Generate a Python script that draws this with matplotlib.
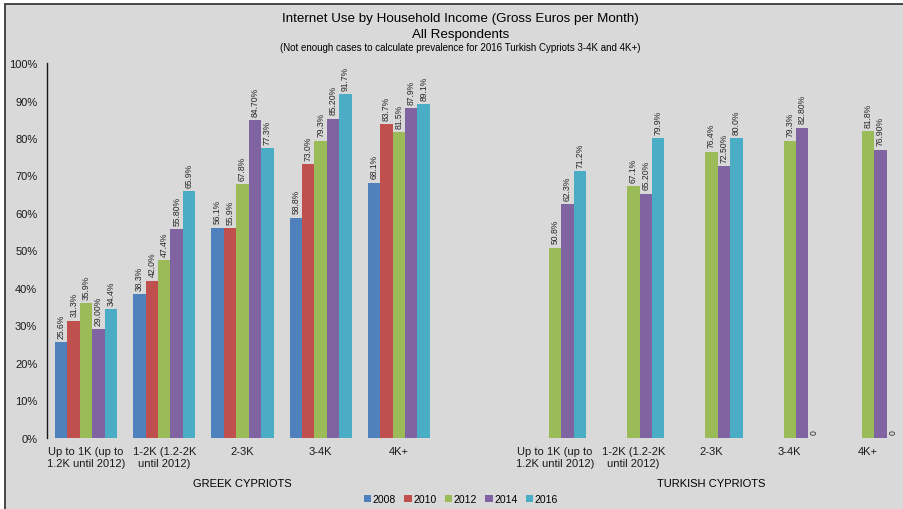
import numpy as np
import matplotlib.pyplot as plt
from matplotlib.patches import Rectangle
from matplotlib.transforms import blended_transform_factory

plt.rcParams["font.family"] = ["Liberation Sans", "DejaVu Sans"]

income_bands = ["Up to 1K (up to\n1.2K until 2012)", "1-2K (1.2-2K\nuntil 2012)",
                "2-3K", "3-4K", "4K+"]
years = [2008, 2010, 2012, 2014, 2016]
colors = ["#4F81BD", "#C0504D", "#9BBB59", "#8064A2", "#4BACC6"]

# percentages kept as strings so the printed precision survives in the labels
greek = {
    2008: ["25.6", "38.3", "56.1", "58.8", "68.1"],
    2010: ["31.3", "42.0", "55.9", "73.0", "83.7"],
    2012: ["35.9", "47.4", "67.8", "79.3", "81.5"],
    2014: ["29.00", "55.80", "84.70", "85.20", "87.9"],
    2016: ["34.4", "65.9", "77.3", "91.7", "89.1"],
}
turkish = {
    2008: [None] * 5,
    2010: [None] * 5,
    2012: ["50.8", "67.1", "76.4", "79.3", "81.8"],
    2014: ["62.3", "65.20", "72.50", "82.80", "76.90"],
    2016: ["71.2", "79.9", "80.0", "0", "0"],
}
greek_x = np.arange(5)
turkish_x = np.arange(6, 11)

fig = plt.figure(figsize=(9.04, 5.10), dpi=100)
fig.patch.set_facecolor("white")
fig.add_artist(Rectangle((5 / 904, -0.01), 1.0, 1 - 5 / 510 + 0.01,
                         transform=fig.transFigure, facecolor="#D9D9D9",
                         edgecolor="#3A3A3A", linewidth=1.3, zorder=-10))

ax = fig.add_axes([47 / 904, 71 / 510, (907 - 47) / 904, 375 / 510])
ax.set_facecolor("none")
ax.set_xlim(-0.5, 10.5)
ax.set_ylim(0, 100)

width = 0.159
offsets = (np.arange(len(years)) - 2) * width

for i, yr in enumerate(years):
    xs, heights, labels = [], [], []
    for vals, base in ((greek[yr], greek_x), (turkish[yr], turkish_x)):
        for x, s in zip(base, vals):
            if s is None:
                continue
            v = float(s)
            xs.append(x + offsets[i])
            heights.append(v)
            labels.append(s + "%" if v else "0")
    ax.bar(xs, heights, width, color=colors[i], label=str(yr), linewidth=0)
    for x, v, lab in zip(xs, heights, labels):
        ax.annotate(lab, (x, v), xytext=(0, 3), textcoords="offset points",
                    rotation=90, ha="center", va="bottom", fontsize=6.2,
                    color="#262626")

ax.set_yticks(range(0, 101, 10))
ax.set_yticklabels([f"{t}%" for t in range(0, 101, 10)], fontsize=8)
ax.set_xticks(list(greek_x) + list(turkish_x))
ax.set_xticklabels(income_bands * 2, fontsize=8)
ax.tick_params(axis="both", length=0, colors="#1A1A1A")
ax.tick_params(axis="y", pad=7)
ax.tick_params(axis="x", pad=6)
for side in ("top", "right", "bottom"):
    ax.spines[side].set_visible(False)
ax.spines["left"].set_color("#1A1A1A")
ax.spines["left"].set_linewidth(1.0)

trans = blended_transform_factory(ax.transData, fig.transFigure)
ax.text(2, 1 - 484 / 510, "GREEK CYPRIOTS", transform=trans,
        ha="center", va="center", fontsize=8)
ax.text(8, 1 - 484 / 510, "TURKISH CYPRIOTS", transform=trans,
        ha="center", va="center", fontsize=8)

fig.text(0.509, 1 - 19 / 510, "Internet Use by Household Income (Gross Euros per Month)",
         ha="center", va="center", fontsize=9.6)
fig.text(0.509, 1 - 35 / 510, "All Respondents", ha="center", va="center", fontsize=9.6)
fig.text(0.509, 1 - 48 / 510,
         "(Not enough cases to calculate prevalence for 2016 Turkish Cypriots 3-4K and 4K+)",
         ha="center", va="center", fontsize=7)

fig.legend(loc="center", bbox_to_anchor=(0.51, 1 - 500 / 510), ncol=5,
           frameon=False, fontsize=7.5, handlelength=0.7, handleheight=0.7,
           handletextpad=0.15, columnspacing=0.8)

fig.savefig("out.png", dpi=100, facecolor=fig.get_facecolor())
